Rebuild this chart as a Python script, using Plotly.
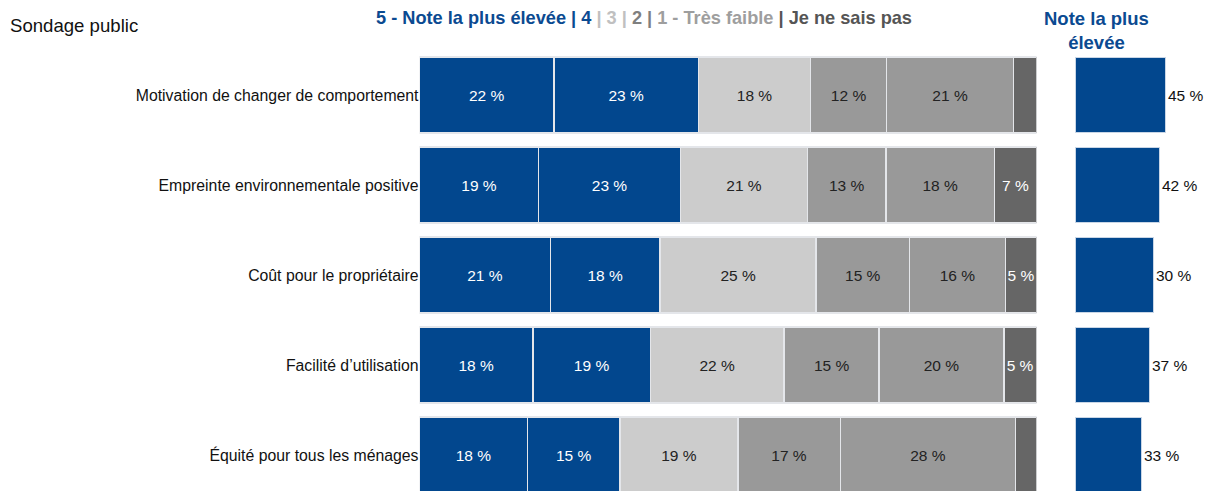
import plotly.graph_objects as go

categories = [
    "Motivation de changer de comportement",
    "Empreinte environnementale positive",
    "Coût pour le propriétaire",
    "Facilité d\u2019utilisation",
    "Équité pour tous les ménages",
]
series_names = ["5 - Note la plus élevée", "4", "3", "2", "1 - Très faible", "Je ne sais pas"]
v5 = [21.8, 19.3, 21.2, 18.4, 17.5]
v4 = [23.4, 23.0, 17.8, 19.0, 15.0]
v3 = [18.2, 20.6, 25.3, 21.7, 19.1]
v2 = [12.3, 12.7, 15.1, 15.4, 16.6]
v1 = [20.6, 17.6, 15.6, 20.2, 28.4]
vdk = [3.7, 6.8, 5.0, 5.3, 3.4]
top_values = [45, 42, 39, 37, 33]
top_labels = ["45 %", "42 %", "30 %", "37 %", "33 %"]

BLUE = "#02478E"
colors = [BLUE, BLUE, "#CCCCCC", "#999999", "#999999", "#666666"]
text_colors = ["white", "white", "#222222", "#222222", "#222222", "white"]
FONT = "Liberation Sans, Arial, sans-serif"

fig = go.Figure()
for name, vals, col, tcol in zip(series_names, [v5, v4, v3, v2, v1, vdk], colors, text_colors):
    txt = [f"{int(v + 0.5)} %" if v >= 4.5 else "" for v in vals]
    fig.add_trace(go.Bar(
        orientation="h", y=categories, x=vals, name=name,
        marker=dict(color=col, line=dict(color="#E4E6EA", width=1.5)),
        text=txt, textposition="inside", insidetextanchor="middle",
        constraintext="none", textangle=0,
        textfont=dict(family=FONT, size=15.5, color=tcol),
        xaxis="x", yaxis="y", showlegend=False, hoverinfo="skip",
    ))

fig.add_trace(go.Bar(
    orientation="h", y=categories, x=top_values, name="Note la plus élevée",
    marker=dict(color=BLUE, line=dict(color="#C9D6E6", width=1)),
    text=top_labels, textposition="outside", constraintext="none", cliponaxis=False,
    textangle=0,
    textfont=dict(family=FONT, size=15.5, color="#111111"),
    xaxis="x2", yaxis="y", showlegend=False, hoverinfo="skip",
))

W, H = 1211, 491
fig.update_layout(
    width=W, height=H, template="none",
    paper_bgcolor="white", plot_bgcolor="white",
    margin=dict(l=0, r=0, t=50, b=0),
    barmode="stack", bargap=0.156,
    font=dict(family=FONT, color="#111111"),
    xaxis=dict(domain=[419.5 / W, 1036.5 / W], range=[0, 100], visible=False, fixedrange=True),
    xaxis2=dict(domain=[1075 / W, 1.0], range=[0, 68], visible=False, anchor="y"),
    yaxis=dict(range=[4.4, -0.5], showgrid=False, zeroline=False, showline=False,
               ticks="", automargin=False, tickfont=dict(family=FONT, size=15.8, color="#111111")),
    annotations=[
        dict(text="Sondage public", x=8 / W, y=1, xref="paper", yref="paper", yshift=25,
             xanchor="left", yanchor="middle", showarrow=False,
             font=dict(family=FONT, size=18.6, color="#111111")),
        dict(text=("<b><span style='color:#0B4A91'>5 - Note la plus élevée | 4</span>"
                   "<span style='color:#C0C0C0'> | 3 | </span>"
                   "<span style='color:#7F7F7F'>2 | </span>"
                   "<span style='color:#9E9E9E'>1 - Très faible</span>"
                   "<span style='color:#555555'> | Je ne sais pas</span></b>"),
             x=644 / W, y=1, yref="paper", xref="paper", yshift=32,
             xanchor="center", yanchor="middle", showarrow=False,
             font=dict(family=FONT, size=18.2)),
        dict(text="<b>Note la plus<br>élevée</b>", x=1096 / W, y=1, xref="paper", yref="paper",
             yshift=20, xanchor="center", yanchor="middle", showarrow=False,
             font=dict(family=FONT, size=18.5, color="#0B4A91")),
    ],
)

fig.write_html("out.html", config={"displayModeBar": False},
               post_script="document.body.style.margin='0px';")
